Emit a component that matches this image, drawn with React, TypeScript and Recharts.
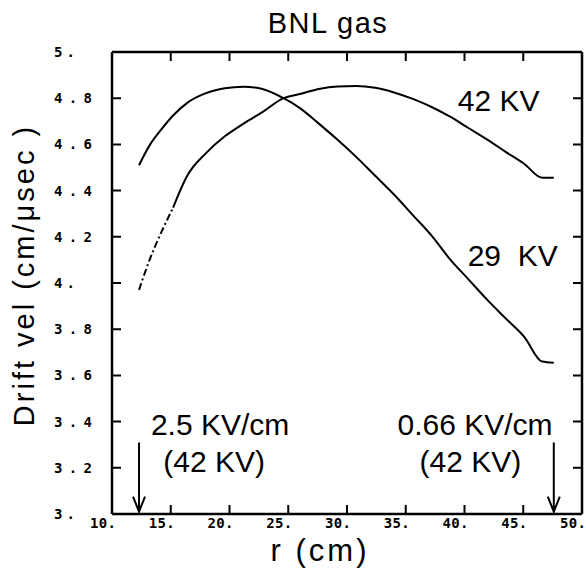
import React from 'react';
import { LineChart, Line, XAxis, YAxis, ReferenceDot, ReferenceLine } from 'recharts';

// radius (cm) where the curves were sampled
const R = [12.3, 13.25, 14.2, 15.2, 16.4, 18.0, 19.6, 21.2, 22.8, 24.6, 26.0, 27.6, 29.2, 30.8, 32.4, 34.0, 35.6, 37.2, 38.7, 40.3, 41.9, 43.5, 45.1, 46.6, 47.6];
// drift velocity (cm/usec)
const KV29 = [4.51, 4.6, 4.665, 4.725, 4.78, 4.822, 4.843, 4.85, 4.84, 4.8, 4.757, 4.69, 4.62, 4.545, 4.464, 4.383, 4.294, 4.205, 4.107, 4.018, 3.929, 3.847, 3.766, 3.66, 3.655];
const KV42 = [3.97, 4.107, 4.22, 4.326, 4.464, 4.562, 4.635, 4.69, 4.74, 4.8, 4.818, 4.84, 4.851, 4.853, 4.845, 4.825, 4.797, 4.762, 4.722, 4.672, 4.622, 4.568, 4.515, 4.456, 4.456];
const DASH_END = 15.2; // first part of the 42 KV curve is broken

const X_TICKS = [10, 15, 20, 25, 30, 35, 40, 45, 50];
const Y_TICKS = [3, 3.2, 3.4, 3.6, 3.8, 4, 4.2, 4.4, 4.6, 4.8, 5];

const data = R.map((r, i) => ({
  r,
  kv29: KV29[i],
  kv42: r >= DASH_END ? KV42[i] : null,
  kv42start: r <= DASH_END ? KV42[i] : null,
}));

const fmt = (v: number) => {
  const s = String(v);
  return s.includes('.') ? s : s + '.';
};

const textFont = 'Liberation Sans, Arial, sans-serif';
const tickStyle = { fontFamily: 'DejaVu Sans Mono', fontWeight: 700, fontSize: 14 };
const TICK = 9;

const BottomTick = ({ x, y, payload }: any) => (
  <text x={x - 22} y={y + 14} textLength={26} lengthAdjust="spacing" style={tickStyle}>{fmt(payload.value)}</text>
);
const LeftTick = ({ x, y, payload }: any) => {
  const s = fmt(payload.value);
  return (
    <text x={x - 58} y={y + 5} textLength={s.length > 2 ? 38 : 21} lengthAdjust="spacing" style={tickStyle}>{s}</text>
  );
};

// inward tick marks at both ends of a full-height / full-width reference line
const TickMarks = (props: any) => {
  const { x1, y1, x2, y2 } = props;
  const d = x1 === x2
    ? `M${x1},${Math.min(y1, y2)}v${TICK}M${x1},${Math.max(y1, y2)}v${-TICK}`
    : `M${Math.min(x1, x2)},${y1}h${TICK}M${Math.max(x1, x2)},${y1}h${-TICK}`;
  return <path d={d} stroke="#000" strokeWidth={2} fill="none" />;
};
const Frame = (props: any) => {
  const { x1, y1, x2, y2 } = props;
  return <path d={`M${x1},${y1}L${x2},${y2}`} stroke="#000" strokeWidth={2.5} fill="none" />;
};

const Arrow = (props: any) => {
  const { x1, y1, y2 } = props;
  const top = Math.min(y1, y2);
  const bot = Math.max(y1, y2);
  return (
    <path
      d={`M${x1},${top}V${bot}M${x1 - 6},${bot - 15}L${x1},${bot}L${x1 + 6},${bot - 15}`}
      stroke="#000" strokeWidth={2} fill="none"
    />
  );
};

const note = (value: string) => ({
  value,
  position: 'center' as const,
  fontSize: 30,
  fontFamily: textFont,
  fill: '#000',
});

export default function App() {
  return (
    <div style={{ position: 'absolute', left: 0, top: 0, width: 586, height: 570 }}>
      <LineChart width={586} height={570} data={data} margin={{ top: 42, right: 0, bottom: 26, left: 52 }}>
        <XAxis
          dataKey="r" type="number" domain={[10, 50]} ticks={X_TICKS} interval={0}
          height={30} tickSize={0} tickMargin={0} tickLine={false} axisLine={false} tick={<BottomTick />}
        />
        <YAxis
          type="number" domain={[3, 5]} ticks={Y_TICKS} interval={0}
          width={60} tickSize={0} tickMargin={0} tickLine={false} axisLine={false} tick={<LeftTick />}
        />
        <XAxis
          xAxisId="top" orientation="top" dataKey="r" type="number" domain={[10, 50]}
          height={10} tick={false} tickLine={false} axisLine={false}
        />
        <YAxis
          yAxisId="right" orientation="right" type="number" domain={[3, 5]}
          width={4} tick={false} tickLine={false} axisLine={false}
        />

        {X_TICKS.map((t) => (
          <ReferenceLine key={`xt-${t}`} x={t} ifOverflow="visible" shape={<TickMarks />} />
        ))}
        {Y_TICKS.map((t) => (
          <ReferenceLine key={`yt-${t}`} y={t} ifOverflow="visible" shape={<TickMarks />} />
        ))}
        <ReferenceLine x={10} ifOverflow="visible" shape={<Frame />} />
        <ReferenceLine x={50} ifOverflow="visible" shape={<Frame />} />
        <ReferenceLine y={3} ifOverflow="visible" shape={<Frame />} />
        <ReferenceLine y={5} ifOverflow="visible" shape={<Frame />} />

        <Line dataKey="kv29" type="monotone" stroke="#000" strokeWidth={2} dot={false} isAnimationActive={false} />
        <Line dataKey="kv42" type="monotone" stroke="#000" strokeWidth={2} dot={false} isAnimationActive={false} />
        <Line dataKey="kv42start" type="monotone" stroke="#000" strokeWidth={2} strokeDasharray="7 3 2 3" dot={false} isAnimationActive={false} />

        <ReferenceDot x={42.9} y={4.79} r={0} label={note('42 KV')} />
        <ReferenceDot x={44.1} y={4.12} r={0} label={note('29\u00a0 KV')} />
        <ReferenceDot x={19.2} y={3.39} r={0} label={note('2.5 KV/cm')} />
        <ReferenceDot x={18.7} y={3.23} r={0} label={note('(42 KV)')} />
        <ReferenceDot x={40.9} y={3.39} r={0} label={note('0.66 KV/cm')} />
        <ReferenceDot x={40.5} y={3.23} r={0} label={note('(42 KV)')} />

        <ReferenceLine segment={[{ x: 12.3, y: 3.31 }, { x: 12.3, y: 3.01 }]} shape={<Arrow />} />
        <ReferenceLine segment={[{ x: 47.6, y: 3.31 }, { x: 47.6, y: 3.01 }]} shape={<Arrow />} />
      </LineChart>

      <div style={{ position: 'absolute', left: 228, top: 5, width: 200, textAlign: 'center', fontFamily: textFont, fontSize: 29, letterSpacing: 1.5, lineHeight: '36px' }}>
        BNL gas
      </div>
      <div style={{ position: 'absolute', left: 220, top: 533, width: 200, textAlign: 'center', fontFamily: textFont, fontSize: 31, letterSpacing: 3, lineHeight: '36px' }}>
        r (cm)
      </div>
      <div style={{ position: 'absolute', left: 24 - 200, top: 275 - 18, width: 400, textAlign: 'center', fontFamily: textFont, fontSize: 29, letterSpacing: 3, lineHeight: '36px', transform: 'rotate(-90deg)', whiteSpace: 'nowrap' }}>
        Drift vel (cm/μsec )
      </div>
    </div>
  );
}
